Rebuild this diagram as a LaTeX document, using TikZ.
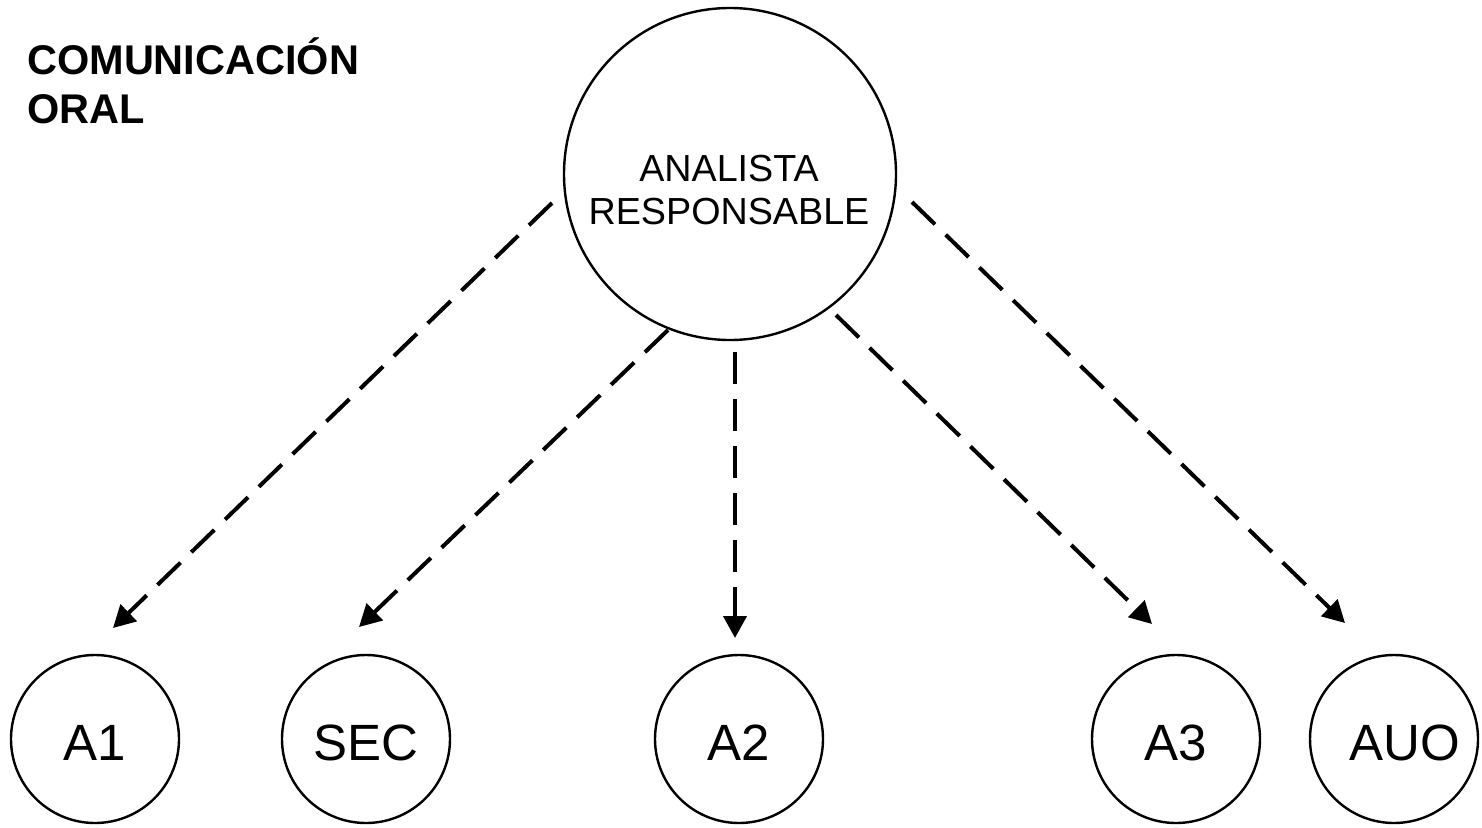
\documentclass[tikz,border=0pt]{standalone}
\usepackage{fontspec}
\setmainfont{Liberation Sans}
\usetikzlibrary{arrows.meta,calc}

\tikzset{
  person/.style={circle, draw, line width=2.4pt, minimum size=168pt, inner sep=0pt,
    text height=43pt, text depth=0pt, font=\fontsize{51}{60}\selectfont},
  chief/.style={circle, draw, line width=2.4pt, minimum size=332pt, inner sep=0pt},
  conn/.style={line width=4pt, dash pattern=on 32pt off 15pt,
    -{Triangle[length=22pt,width=23pt]}},
  heading/.style={anchor=base west, inner sep=0pt, font=\bfseries\fontsize{41.5}{49}\selectfont}
}

\begin{document}
\begin{tikzpicture}[x=1pt,y=-1pt]
  \useasboundingbox (0,0) rectangle (1482,827);

  % title
  \node[heading] (title1) at (27,74) {COMUNICACIÓN};
  \node[heading] (title2) at (27,123) {ORAL};

  % central analyst
  \node[chief] (top) at (730,174) {};
  \node[align=center, inner sep=0pt, font=\fontsize{37.7}{43}\selectfont]
    (toptext) at (729,190) {ANALISTA\\RESPONSABLE};

  % receivers
  \node[person] (a1)  at (95,739)   {A1};
  \node[person] (sec) at (366,739)  {SEC};
  \node[person] (a2)  at (739,739)  {A2};
  \node[person] (a3)  at (1176,739) {A3};
  \node[person] (auo) at (1394,739) {\hspace*{22pt}AUO};

  % start and end points of the dashed arrows
  \coordinate (s1) at ([shift={(-178,29)}]top.center);
  \coordinate (s2) at ([shift={(-62,156)}]top.center);
  \coordinate (s3) at ([shift={(5,178)}]top.center);
  \coordinate (s4) at ([shift={(106,141)}]top.center);
  \coordinate (s5) at ([shift={(182,28)}]top.center);
  \coordinate (t1) at ([shift={(18,-111)}]a1.center);
  \coordinate (t2) at ([shift={(-7,-112)}]sec.center);
  \coordinate (t3) at ([shift={(-4,-101)}]a2.center);
  \coordinate (t4) at ([shift={(-24,-115)}]a3.center);
  \coordinate (t5) at ([shift={(-49,-116)}]auo.center);

  \draw[conn] (s1) -- (t1);
  \draw[conn] (s2) -- (t2);
  \draw[conn] (s3) -- (s3 |- t3);
  \draw[conn] (s4) -- (t4);
  \draw[conn] (s5) -- (t5);
\end{tikzpicture}
\end{document}
